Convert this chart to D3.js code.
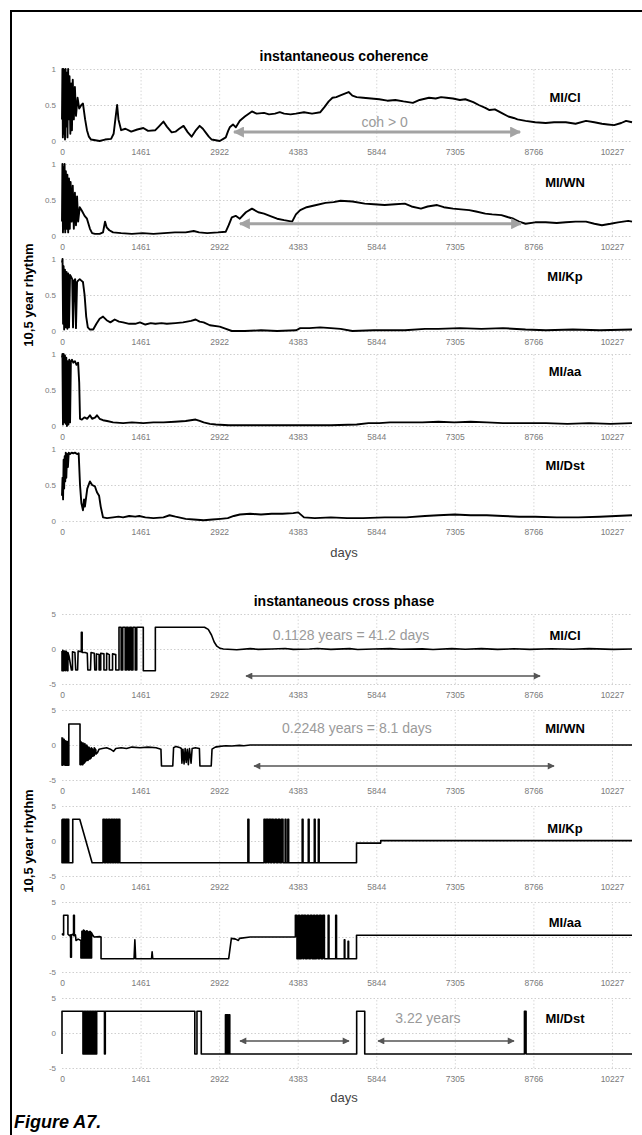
<!DOCTYPE html>
<html>
<head>
<meta charset="utf-8">
<script src="https://cdn.jsdelivr.net/npm/d3@7"></script>
<style>
  body { margin: 0; background: #fff; }
  svg { display: block; }
</style>
</head>
<body>
<div id="chart"></div>
<script>
// x ticks in days (multiples of 1461 = 4 years)
const tickDays = [0, 1461, 2922, 4383, 5844, 7305, 8766, 10227];
const pairNames = ["MI/CI", "MI/WN", "MI/Kp", "MI/aa", "MI/Dst"];
const cohTicks = [0, 0.5, 1];
const phaseTicks = [-5, 0, 5];

// instantaneous coherence, [day, value]
const cohCI = [[0,0.3],[8,1],[16,0.05],[26,1],[36,0.1],[46,0.98],[56,0.02],[66,1],[78,0.2],[90,0.95],[102,0.05],[114,1],[126,0.3],[140,0.9],[155,0.1],[170,0.8],[185,0.15],[200,0.85],[220,0.3],[240,0.75],[260,0.35],[290,0.6],[320,0.45],[360,0.5],[390,0.52],[430,0.3],[464,0.15],[500,0.06],[540,0.02],[620,0.01],[700,0.0],[800,0.02],[913,0.03],[960,0.1],[1000,0.35],[1025,0.5],[1050,0.3],[1100,0.15],[1180,0.17],[1287,0.13],[1400,0.16],[1512,0.18],[1600,0.14],[1736,0.15],[1800,0.2],[1886,0.27],[1950,0.2],[2040,0.12],[2110,0.13],[2180,0.17],[2260,0.21],[2340,0.12],[2410,0.06],[2480,0.14],[2560,0.21],[2620,0.17],[2670,0.12],[2730,0.06],[2784,0.02],[2860,0.01],[2933,0.0],[3000,0.03],[3046,0.05],[3090,0.14],[3120,0.19],[3180,0.23],[3233,0.19],[3307,0.28],[3400,0.34],[3532,0.41],[3620,0.38],[3757,0.39],[3850,0.37],[3960,0.38],[4050,0.4],[4131,0.38],[4250,0.37],[4350,0.38],[4500,0.4],[4650,0.38],[4804,0.4],[4880,0.47],[4960,0.55],[5030,0.6],[5100,0.61],[5200,0.64],[5330,0.68],[5400,0.63],[5480,0.61],[5600,0.6],[5750,0.59],[5900,0.58],[6050,0.56],[6200,0.57],[6350,0.55],[6525,0.53],[6650,0.57],[6825,0.6],[6950,0.59],[7050,0.61],[7150,0.6],[7270,0.59],[7400,0.57],[7500,0.58],[7648,0.54],[7750,0.5],[7872,0.46],[7950,0.43],[8050,0.44],[8172,0.39],[8300,0.34],[8400,0.32],[8470,0.3],[8620,0.28],[8800,0.26],[8995,0.25],[9150,0.26],[9370,0.26],[9550,0.24],[9745,0.28],[9900,0.26],[10040,0.24],[10150,0.23],[10267,0.22],[10400,0.25],[10490,0.28],[10600,0.26]];
const cohWN = [[0,0.2],[8,1],[18,0.05],[28,0.95],[38,0.1],[48,1],[60,0.05],[72,0.9],[85,0.1],[100,0.85],[115,0.05],[130,0.8],[145,0.1],[160,0.75],[180,0.2],[200,0.7],[220,0.1],[240,0.6],[260,0.15],[280,0.55],[300,0.2],[330,0.4],[370,0.35],[420,0.28],[464,0.24],[520,0.1],[560,0.04],[613,0.03],[700,0.03],[763,0.05],[800,0.2],[830,0.12],[880,0.08],[950,0.05],[1100,0.04],[1300,0.03],[1500,0.04],[1700,0.03],[1900,0.04],[2100,0.05],[2300,0.05],[2450,0.07],[2550,0.05],[2700,0.04],[2900,0.05],[3046,0.06],[3100,0.15],[3158,0.26],[3230,0.28],[3307,0.24],[3420,0.33],[3532,0.38],[3650,0.33],[3757,0.31],[3900,0.27],[4000,0.24],[4131,0.22],[4280,0.2],[4350,0.3],[4430,0.36],[4550,0.4],[4730,0.43],[4900,0.46],[5050,0.47],[5180,0.49],[5400,0.48],[5630,0.45],[5800,0.44],[6000,0.43],[6200,0.44],[6375,0.45],[6500,0.41],[6675,0.38],[6800,0.41],[6975,0.43],[7100,0.4],[7273,0.38],[7420,0.37],[7573,0.36],[7700,0.34],[7872,0.31],[8000,0.3],[8172,0.29],[8300,0.26],[8396,0.24],[8500,0.2],[8620,0.17],[8800,0.19],[8995,0.19],[9200,0.18],[9370,0.19],[9550,0.2],[9745,0.2],[9900,0.17],[10040,0.15],[10200,0.17],[10340,0.19],[10530,0.21],[10600,0.2]];
const cohKp = [[0,0.95],[10,1],[20,0.1],[30,0.9],[40,0.02],[55,0.85],[70,0.05],[85,0.82],[100,0.03],[115,0.8],[130,0.05],[150,0.78],[170,0.75],[190,0.72],[205,0.05],[225,0.7],[245,0.72],[260,0.04],[280,0.68],[300,0.7],[330,0.72],[360,0.7],[390,0.68],[420,0.5],[450,0.2],[480,0.05],[520,0.02],[580,0.02],[640,0.1],[700,0.17],[763,0.2],[830,0.15],[900,0.12],[980,0.16],[1060,0.13],[1137,0.12],[1250,0.1],[1362,0.1],[1450,0.12],[1550,0.09],[1650,0.11],[1736,0.1],[1850,0.11],[1950,0.1],[2110,0.11],[2250,0.12],[2400,0.14],[2485,0.16],[2560,0.13],[2634,0.12],[2750,0.08],[2933,0.06],[3050,0.03],[3158,0.0],[3400,0.0],[3700,0.01],[4000,0.0],[4355,0.01],[4430,0.04],[4600,0.04],[4800,0.05],[5000,0.04],[5180,0.03],[5400,0.0],[5800,0.01],[6375,0.01],[6750,0.03],[7000,0.03],[7400,0.04],[7800,0.03],[8200,0.04],[8620,0.02],[9000,0.01],[9500,0.02],[10000,0.01],[10600,0.02]];
const cohAa = [[0,0.95],[8,1],[18,0.02],[30,1],[42,0.05],[55,0.98],[68,0.03],[80,0.95],[92,0.0],[105,0.9],[120,0.02],[135,0.92],[150,0.05],[165,0.9],[185,0.92],[210,0.88],[240,0.9],[270,0.85],[300,0.88],[320,0.6],[335,0.1],[370,0.09],[420,0.12],[470,0.1],[520,0.15],[560,0.1],[620,0.12],[650,0.15],[700,0.1],[763,0.08],[838,0.07],[950,0.05],[1137,0.04],[1300,0.05],[1512,0.04],[1700,0.05],[1886,0.05],[2100,0.06],[2300,0.07],[2485,0.09],[2560,0.07],[2634,0.05],[2750,0.03],[2860,0.02],[3100,0.01],[3500,0.01],[4000,0.01],[4500,0.01],[5000,0.01],[5480,0.02],[5700,0.04],[5900,0.04],[6100,0.05],[6400,0.05],[6700,0.05],[7000,0.06],[7300,0.05],[7600,0.06],[7900,0.05],[8200,0.04],[8600,0.04],[9000,0.04],[9400,0.03],[9800,0.04],[10200,0.03],[10600,0.04]];
const cohDst = [[0,0.35],[10,0.6],[20,0.3],[30,0.85],[40,0.45],[50,0.9],[60,0.55],[70,0.95],[80,0.6],[95,0.93],[110,0.75],[125,0.95],[150,0.93],[180,0.95],[210,0.94],[240,0.95],[280,0.93],[310,0.94],[335,0.5],[360,0.25],[390,0.15],[410,0.3],[426,0.2],[470,0.45],[520,0.55],[560,0.5],[613,0.48],[650,0.4],[690,0.35],[720,0.2],[763,0.05],[838,0.04],[950,0.05],[1050,0.06],[1137,0.05],[1250,0.07],[1362,0.06],[1437,0.07],[1550,0.05],[1700,0.04],[1886,0.05],[2000,0.08],[2110,0.06],[2300,0.03],[2450,0.02],[2634,0.01],[2800,0.02],[2950,0.03],[3083,0.04],[3195,0.07],[3307,0.09],[3500,0.1],[3700,0.09],[3900,0.1],[4100,0.1],[4300,0.11],[4393,0.12],[4500,0.05],[4700,0.04],[5000,0.05],[5300,0.04],[5600,0.04],[6000,0.05],[6400,0.05],[6750,0.07],[7000,0.08],[7300,0.09],[7600,0.08],[7900,0.08],[8200,0.07],[8500,0.06],[8800,0.06],[9200,0.05],[9600,0.05],[10000,0.06],[10300,0.07],[10600,0.08]];

// instantaneous cross phase, [day, value]
const phCI = [[0,-0.3],[0,-3.1],[15,-3.1],[15,-0.2],[30,-0.5],[30,-3.1],[45,-3],[45,-0.3],[60,-0.4],[60,-3.1],[75,-3],[75,-0.3],[95,-0.6],[95,-3.1],[110,-3.1],[110,-0.5],[130,-1],[175,-3],[195,-3],[195,-0.4],[240,-0.5],[255,-3],[290,-3],[300,-0.3],[360,-0.4],[360,2.4],[375,2.4],[375,-0.5],[430,-0.5],[470,-0.6],[480,-3],[530,-3],[540,-0.5],[600,-0.6],[610,-3],[640,-3],[640,-0.7],[690,-0.8],[690,-3],[720,-3],[720,-0.6],[780,-0.7],[780,-3],[830,-3],[830,-0.6],[880,-0.8],[880,-3],[940,-3],[940,-0.7],[1000,-0.8],[1000,-3],[1060,-3],[1060,3.1],[1100,3.1],[1100,-3],[1130,-3],[1130,3.1],[1175,3.1],[1175,-3],[1200,-3],[1200,3.1],[1230,3.1],[1230,-3],[1260,-3],[1260,3.1],[1290,3.1],[1290,-3],[1320,-3],[1320,3.1],[1362,3.1],[1362,-3],[1390,-3],[1390,3.1],[1512,3.1],[1512,-3.1],[1736,-3.1],[1736,3.1],[2650,3.1],[2720,2.8],[2780,2.0],[2830,1.0],[2880,0.4],[2940,0.1],[3000,0.0],[3250,-0.1],[3500,0.05],[3650,-0.05],[3900,0.0],[4150,0.08],[4300,-0.05],[4600,0.0],[4750,0.07],[5000,-0.05],[5350,0.05],[5500,-0.08],[5800,0.0],[6100,0.06],[6300,-0.04],[6700,0.02],[6900,-0.07],[7250,0.05],[7500,-0.03],[7800,0.06],[8100,-0.06],[8400,0.03],[8700,-0.05],[9100,0.04],[9500,-0.04],[9800,0.05],[10250,-0.05],[10600,0.0]];
const phWN = [[0,1.1],[0,-2.9],[12,-2.9],[12,1.0],[25,0.5],[25,-2.8],[40,-2.8],[40,0.8],[55,0.3],[55,-2.9],[70,-2.9],[70,0.6],[85,0.2],[85,-2.9],[100,-2.9],[100,0.5],[115,0.3],[115,-2.9],[127,-2.9],[127,3.0],[335,3.0],[335,-2.8],[350,-2.8],[350,0.5],[370,0.2],[370,-2.8],[390,-2.8],[390,0.3],[410,-0.2],[410,-2.6],[425,-2.5],[425,0.2],[440,-0.3],[440,-2.3],[460,-2.2],[460,0.0],[480,-0.5],[480,-2.2],[500,-2.0],[500,-0.3],[520,-0.6],[520,-2.0],[545,-1.8],[545,-0.4],[570,-0.6],[570,-1.6],[600,-1.5],[600,-0.4],[630,-0.7],[630,-1.3],[660,-1.1],[690,-0.6],[750,-0.5],[830,-0.4],[900,-0.6],[960,-0.9],[1000,-0.5],[1100,-0.4],[1200,-0.5],[1300,-0.3],[1450,-0.4],[1600,-0.3],[1750,-0.4],[1840,-0.6],[1850,-3.0],[2060,-3.0],[2075,-0.4],[2120,-0.2],[2200,-0.4],[2220,-0.5],[2230,-2.6],[2250,-0.6],[2270,-2.7],[2290,-0.5],[2310,-2.5],[2330,-0.6],[2350,-2.8],[2370,-0.5],[2400,-2.6],[2420,-0.5],[2480,-0.4],[2555,-0.5],[2565,-3.0],[2775,-3.0],[2790,-0.6],[2850,-0.3],[2933,-0.2],[3046,-0.1],[3158,-0.15],[3300,-0.05],[3382,-0.1],[3500,0.0],[10600,0.0]];
const phKp = [[0,3.1],[0,-3.1],[10,-3.1],[10,3.1],[20,3.1],[20,-3.1],[30,-3.1],[30,3.1],[40,3.1],[40,-3.1],[50,-3.1],[50,3.1],[60,3.1],[60,-3.1],[75,-3.1],[75,3.1],[85,3.1],[85,-3.1],[95,-3.1],[95,3.1],[105,3.1],[105,-3.1],[115,-3.1],[115,3.1],[125,3.1],[125,-3.1],[200,-3.1],[200,3.1],[330,3.1],[560,-3.1],[763,-3.1],[763,3.1],[790,3.1],[790,-3.1],[815,-3.1],[815,3.1],[840,3.1],[840,-3.1],[865,-3.1],[865,3.1],[890,3.1],[890,-3.1],[915,-3.1],[915,3.1],[940,3.1],[940,-3.1],[960,-3.1],[960,3.1],[985,3.1],[985,-3.1],[1005,-3.1],[1005,3.1],[1030,3.1],[1030,-3.1],[1050,-3.1],[1050,3.1],[1075,3.1],[1075,-3.1],[3457,-3.1],[3457,3.1],[3475,3.1],[3475,-3.1],[3757,-3.1],[3757,3.1],[3780,3.1],[3780,-3.1],[3800,-3.1],[3800,3.1],[3830,3.1],[3830,-3.1],[3850,-3.1],[3850,3.1],[3880,3.1],[3880,-3.1],[3900,-3.1],[3900,3.1],[3930,3.1],[3930,-3.1],[3960,-3.1],[3960,3.1],[3990,3.1],[3990,-3.1],[4020,-3.1],[4020,3.1],[4050,3.1],[4050,-3.1],[4080,-3.1],[4080,3.1],[4110,3.1],[4110,-3.1],[4150,-3.1],[4150,3.1],[4165,3.1],[4165,-3.1],[4200,-3.1],[4200,3.1],[4215,3.1],[4215,-3.1],[4467,-3.1],[4467,3.1],[4482,3.1],[4482,-3.1],[4580,-3.1],[4580,3.1],[4595,3.1],[4595,-3.1],[4692,-3.1],[4692,3.1],[4707,3.1],[4707,-3.1],[4767,-3.1],[4767,3.1],[4782,3.1],[4782,-3.1],[5477,-3.1],[5477,-0.3],[5927,-0.3],[5927,0.05],[10600,0.05]];
const phAa = [[0,0.5],[20,0.3],[30,0.3],[30,3.1],[110,3.1],[110,0.4],[140,0.2],[160,0.3],[160,-2.9],[175,-2.9],[175,0.3],[200,0.4],[215,0.2],[215,3.1],[230,3.1],[230,0.2],[250,0.3],[260,-0.5],[300,-0.3],[352,-0.5],[352,-3.0],[370,-3.0],[370,0.8],[385,0.8],[385,-3.0],[400,-3.0],[400,1.0],[415,0.9],[415,-3.0],[430,-3.0],[430,0.8],[445,0.7],[445,-3.0],[460,-3.0],[460,0.9],[475,0.8],[475,-3.0],[490,-3.0],[490,0.7],[505,0.7],[505,-3.0],[520,-3.0],[520,0.8],[535,0.7],[535,-3.0],[550,-3.0],[550,0.6],[576,0.2],[600,0.0],[700,0.05],[726,0.0],[726,-3.1],[1340,-3.1],[1355,-0.4],[1370,-3.1],[1665,-3.1],[1676,-2.1],[1688,-3.1],[3100,-3.1],[3150,-0.2],[3230,-0.3],[3280,-0.5],[3300,-0.2],[3500,0.0],[4340,0.0],[4340,3.1],[4370,3.1],[4370,-3.1],[4400,-3.1],[4400,3.1],[4420,3.1],[4420,-3.1],[4450,-3.1],[4450,3.1],[4480,3.1],[4480,-3.1],[4500,-3.1],[4500,3.1],[4530,3.1],[4530,-3.1],[4560,-3.1],[4560,3.1],[4590,3.1],[4590,-3.1],[4620,-3.1],[4620,3.1],[4650,3.1],[4650,-3.1],[4680,-3.1],[4680,3.1],[4700,3.1],[4700,-3.1],[4730,-3.1],[4730,3.1],[4760,3.1],[4760,-3.1],[4790,-3.1],[4790,3.1],[4820,3.1],[4820,-3.1],[4850,-3.1],[4850,3.1],[4880,3.1],[4880,-3.1],[4950,-3.1],[4950,3.1],[4965,3.1],[4965,-3.1],[5090,-3.1],[5090,3.1],[5105,3.1],[5105,-3.1],[5250,-3.1],[5250,-0.4],[5260,-0.4],[5260,-3.1],[5320,-3.1],[5320,-0.6],[5330,-0.6],[5330,-3.1],[5477,-3.1],[5477,0.25],[10600,0.25]];
const phDst = [[0,-3.0],[0,3.1],[390,3.1],[390,-3.0],[405,-3.0],[405,3.1],[420,3.1],[420,-3.0],[435,-3.0],[435,3.1],[450,3.1],[450,-3.0],[465,-3.0],[465,3.1],[480,3.1],[480,-3.0],[495,-3.0],[495,3.1],[510,3.1],[510,-3.0],[525,-3.0],[525,3.1],[540,3.1],[540,-3.0],[555,-3.0],[555,3.1],[570,3.1],[570,-3.0],[585,-3.0],[585,3.1],[600,3.1],[600,-3.0],[615,-3.0],[615,3.1],[630,3.1],[630,-3.0],[645,-3.0],[645,3.1],[790,3.1],[790,-3.0],[805,-3.0],[805,3.1],[2470,3.1],[2470,-3.0],[2510,-3.0],[2510,3.1],[2590,3.1],[2590,-3.0],[3040,-3.0],[3040,2.6],[3060,2.6],[3060,-3.0],[3075,-3.0],[3075,2.6],[3090,2.6],[3090,-3.0],[3105,-3.0],[3105,2.6],[3120,2.6],[3120,-3.0],[5480,-3.0],[5480,3.1],[5630,3.1],[5630,-3.0],[8600,-3.0],[8600,3.1],[8630,3.1],[8630,-3.0],[10600,-3.0]];

const cohSeries = [cohCI, cohWN, cohKp, cohAa, cohDst];
const phaseSeries = [phCI, phWN, phKp, phAa, phDst];

// annotations: [panel, fromDay, toDay, value]
const cohArrows = [[0, 3199, 8518, 0.125], [1, 3310, 8536, 0.17]];
const phaseArrows = [[0, 3422, 8890, -3.86], [1, 3571, 9150, -3.0], [4, 3310, 5337, -1.14], [4, 5877, 8406, -1.14]];
// [panel, day, value, text]
const cohNotes = [[0, 6000, 0.19, "coh > 0"]];
const phaseNotes = [[0, 5374, 1.3, "0.1128 years = 41.2 days"], [1, 5485, 1.7, "0.2248 years = 8.1 days"], [4, 6805, 1.4, "3.22 years"]];

const width = 642;
const height = 1135;
const left = 62;
const right = 632;
const font = "'Liberation Sans', Arial, sans-serif";

const svg = d3.select("#chart")
    .append("svg")
    .attr("width", width)
    .attr("height", height)
    .style("font-family", font);

const defs = svg.append("defs");
function addHead(id, color, w, h) {
    defs.append("marker")
        .attr("id", id)
        .attr("viewBox", "0 0 10 10")
        .attr("refX", 9).attr("refY", 5)
        .attr("markerUnits", "userSpaceOnUse")
        .attr("markerWidth", w).attr("markerHeight", h)
        .attr("orient", "auto-start-reverse")
        .append("path")
        .attr("d", "M0,0 L10,5 L0,10 Z")
        .attr("fill", color);
}
addHead("headCoh", "#a3a3a3", 16, 11);
addHead("headPh", "#555", 10, 7);

// frame
svg.append("path")
    .attr("d", `M11,${height} V11 H${width}`)
    .attr("fill", "none")
    .attr("stroke", "#000")
    .attr("stroke-width", 2);

const x = d3.scaleLinear().domain([0, 10600]).range([left, right]);

const sections = [
    { series: cohSeries, top: 69, step: 95, h: 72, domain: [0, 1], ticks: cohTicks,
      title: "instantaneous coherence", titleY: 61, daysY: 557, labelDy: [33, 23, 22, 22, 21],
      arrows: cohArrows, notes: cohNotes, arrowColor: "#a3a3a3", arrowWidth: 3, head: "headCoh", lineWidth: 1.9 },
    { series: phaseSeries, top: 614, step: 96, h: 70, domain: [-5, 5], ticks: phaseTicks,
      title: "instantaneous cross phase", titleY: 606, daysY: 1102, labelDy: [26, 23, 27, 25, 25],
      arrows: phaseArrows, notes: phaseNotes, arrowColor: "#555", arrowWidth: 1.5, head: "headPh", lineWidth: 1.6 }
];

sections.forEach(sec => {
    svg.append("text")
        .attr("x", 344).attr("y", sec.titleY)
        .attr("text-anchor", "middle")
        .attr("font-size", 14).attr("font-weight", "bold")
        .text(sec.title);

    const firstTop = sec.top;
    const lastBottom = sec.top + 4 * sec.step + sec.h;

    sec.series.forEach((data, i) => {
        const top = sec.top + i * sec.step;
        const y = d3.scaleLinear().domain(sec.domain).range([top + sec.h, top]);
        const g = svg.append("g");

        // dotted grid
        g.append("g")
            .attr("transform", `translate(${left},0)`)
            .call(d3.axisLeft(y).tickValues(sec.ticks).tickSize(-(right - left)).tickFormat(""))
            .call(a => a.select(".domain").remove())
            .selectAll("line")
            .attr("stroke", "#cfcfcf").attr("stroke-dasharray", "1.5,2");
        g.append("g")
            .attr("transform", `translate(0,${top + sec.h})`)
            .call(d3.axisBottom(x).tickValues(tickDays.slice(1)).tickSize(-sec.h).tickFormat(""))
            .call(a => a.select(".domain").remove())
            .selectAll("line")
            .attr("stroke", "#d8d8d8").attr("stroke-dasharray", "1.5,2");

        // y tick labels
        g.append("g")
            .attr("transform", `translate(${left},0)`)
            .call(d3.axisLeft(y).tickValues(sec.ticks).tickSize(0).tickPadding(6).tickFormat(d => String(d)))
            .call(a => a.select(".domain").remove())
            .selectAll("text")
            .attr("font-size", 8).attr("font-family", font).attr("fill", "#7a7a7a");

        // x tick labels
        g.append("g")
            .attr("transform", `translate(0,${top + sec.h})`)
            .call(d3.axisBottom(x).tickValues(tickDays).tickSize(0).tickFormat(d3.format("d")))
            .call(a => a.select(".domain").remove())
            .selectAll("text")
            .attr("dy", null).attr("y", 14)
            .attr("font-size", 8.5).attr("font-family", font).attr("fill", "#7a7a7a");

        // series line
        g.append("path")
            .datum(data)
            .attr("fill", "none")
            .attr("stroke", "#000")
            .attr("stroke-width", sec.lineWidth)
            .attr("stroke-linejoin", "round")
            .attr("d", d3.line().x(d => x(d[0])).y(d => y(d[1])));

        // pair label
        g.append("text")
            .attr("x", 565).attr("y", top + sec.labelDy[i])
            .attr("text-anchor", "middle")
            .attr("font-size", 13).attr("font-weight", "bold")
            .text(pairNames[i]);

        sec.arrows.filter(a => a[0] === i).forEach(a => {
            g.append("line")
                .attr("x1", x(a[1])).attr("x2", x(a[2]))
                .attr("y1", y(a[3])).attr("y2", y(a[3]))
                .attr("stroke", sec.arrowColor)
                .attr("stroke-width", sec.arrowWidth)
                .attr("marker-start", `url(#${sec.head})`)
                .attr("marker-end", `url(#${sec.head})`);
        });

        sec.notes.filter(n => n[0] === i).forEach(n => {
            g.append("text")
                .attr("x", x(n[1])).attr("y", y(n[2]))
                .attr("text-anchor", "middle")
                .attr("font-size", 14)
                .attr("fill", "#9a9a9a")
                .text(n[3]);
        });
    });

    // y axis title
    const midY = (firstTop + lastBottom) / 2;
    svg.append("text")
        .attr("transform", `translate(33,${midY}) rotate(-90)`)
        .attr("text-anchor", "middle")
        .attr("font-size", 13).attr("font-weight", "bold")
        .text("10,5 year rhythm");

    svg.append("text")
        .attr("x", 344).attr("y", sec.daysY)
        .attr("text-anchor", "middle")
        .attr("font-size", 13)
        .attr("fill", "#444")
        .text("days");
});

svg.append("text")
    .attr("x", 14).attr("y", 1128)
    .attr("font-size", 18).attr("font-weight", "bold").attr("font-style", "italic")
    .text("Figure A7.");
</script>
</body>
</html>
